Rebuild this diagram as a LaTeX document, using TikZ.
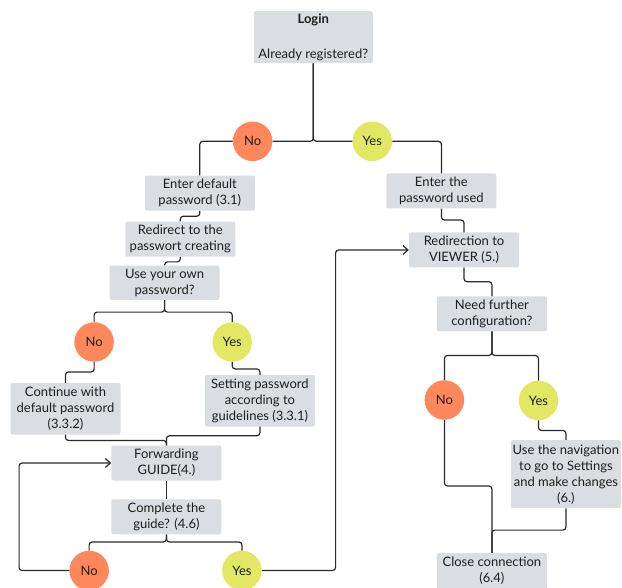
\documentclass[tikz,border=0pt]{standalone}
\usepackage{fontspec}
\setmainfont{Lato}
\usetikzlibrary{arrows.meta}
\definecolor{boxgray}{HTML}{DADDE1}
\definecolor{noorange}{HTML}{FF875C}
\definecolor{yesyellow}{HTML}{E2E863}
\definecolor{linec}{HTML}{2A2A2A}
\definecolor{txt}{HTML}{1E1E1E}
\tikzset{
  box/.style={rectangle, rounded corners=2pt, fill=boxgray, minimum width=110pt,
    inner sep=0pt, align=center, text=txt, font=\fontsize{13}{16}\selectfont},
  hb/.style={minimum height=35pt},
  hc/.style={minimum height=51.5pt},
  hd/.style={minimum height=68pt},
  bub/.style={circle, minimum size=39.5pt, inner sep=0pt, text=txt, font=\fontsize{13}{16}\selectfont},
  nobub/.style={bub, fill=noorange},
  yesbub/.style={bub, fill=yesyellow},
  conn/.style={draw=linec, line width=1.2pt, rounded corners=3pt},
  arr/.style={conn, -{Straight Barb[length=5pt,width=9pt]}}
}
\begin{document}
\begin{tikzpicture}[x=1pt,y=-1pt]
\useasboundingbox (0,0) rectangle (622,588);
% boxes
\node[box, minimum width=119pt, minimum height=52pt] (login) at (313.3,37.2) {\textbf{Login}\\[19pt]Already registered?};
\node[box,hb] (def) at (199.8,193.2) {Enter default\\password (3.1)};
\node[box,hb] (used) at (441.4,191) {Enter the\\password used};
\node[box,hb] (redir) at (180.3,239.2) {Redirect to the\\passwort creating};
\node[box,minimum height=34.3pt] (own) at (164.6,282.8) {Use your own\\password?};
\node[box,hb] (viewer) at (464,250) {Redirection to\\VIEWER (5.)};
\node[box,hb] (need) at (491.9,313.8) {Need further\\configuration?};
\node[box,hc] (cont) at (65.5,408.8) {Continue with\\default password\\(3.3.2)};
\node[box,hc] (set) at (259.9,400.8) {Setting password\\according to\\guidelines (3.3.1)};
\node[box,hb] (forw) at (166.4,463) {Forwarding\\GUIDE(4.)};
\node[box,hb] (comp) at (166.4,516.8) {Complete the\\guide? (4.6)};
\node[box,hd] (nav) at (565.9,474.2) {Use the navigation\\to go to Settings\\and make changes\\(6.)};
\node[box,minimum height=36pt] (close) at (491.9,571) {Close connection\\(6.4)};
% decisions
\node[nobub] (no1) at (252.6,141.3) {No};
\node[yesbub] (yes1) at (372.3,141.3) {Yes};
\node[nobub] (no2) at (94.1,342) {No};
\node[yesbub] (yes2) at (232.2,342) {Yes};
\node[nobub] (no3) at (89.1,570.5) {No};
\node[yesbub] (yes3) at (241.9,570.5) {Yes};
\node[nobub] (no4) at (444.4,400) {No};
\node[yesbub] (yes4) at (538.5,400.5) {Yes};
\coordinate (loopL) at (19.1,463);
\coordinate (loopR) at (335.6,250);
% connectors
\draw[conn] (login.south) |- (no1.east);
\draw[conn] (login.south) |- (yes1.west);
\draw[conn] (no1.west) -| (def.north);
\draw[conn] (yes1.east) -| (used.north);
\draw[conn] (def.south) -- ++(0,5.3) -| (redir.north);
\draw[conn] (redir.south) -- ++(0,5) -| (own.north);
\draw[conn] (own.south) -- ++(0,12) -| (no2.north);
\draw[conn] (own.south) -- ++(0,12) -| (yes2.north);
\draw[conn] (no2.south) -- ++(0,10) -| (cont.north);
\draw[conn] (yes2.south) -- ++(0,7) -| (set.north);
\draw[conn] (cont.south) -- ++(0,5.7) -| (forw.north);
\draw[conn] (set.south) -- ++(0,9) -| (forw.north);
\draw[conn] (forw.south) -- (comp.north);
\draw[conn] (comp.south) -- ++(0,7.5) -| (no3.north);
\draw[conn] (comp.south) -- ++(0,7.5) -| (yes3.north);
\draw[arr] (no3.west) -| (loopL) -- (forw.west);
\draw[arr] (yes3.east) -| (loopR) -- (viewer.west);
\draw[conn] (used.south) -- ++(0,11.3) -| (viewer.north);
\draw[conn] (viewer.south) -- ++(0,14) -| (need.north);
\draw[conn] (need.south) -- ++(0,24) -| (no4.north);
\draw[conn] (need.south) -- ++(0,24) -| (yes4.north);
\draw[conn] (yes4.south) -- ++(0,10) -| (nav.north);
\draw[conn] (no4.south) -- ++(0,66) -| (close.north);
\draw[conn] (nav.south) -- ++(0,21.7) -| (close.north);
\end{tikzpicture}
\end{document}
